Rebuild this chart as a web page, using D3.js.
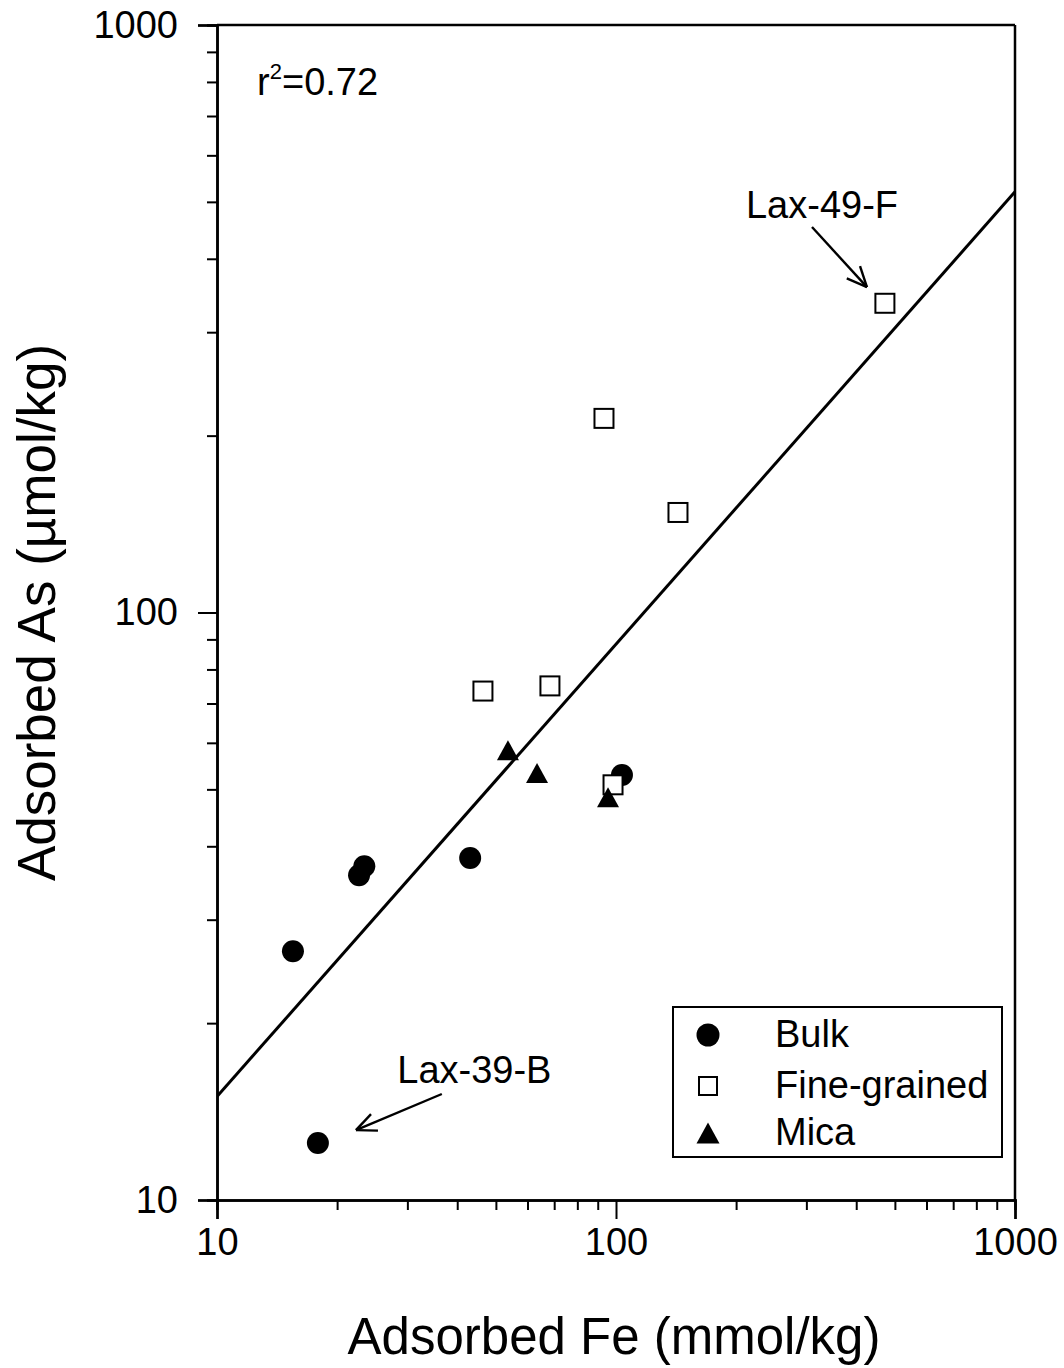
<!DOCTYPE html>
<html>
<head>
<meta charset="utf-8">
<script src="https://cdn.jsdelivr.net/npm/d3@7"></script>
<style>
  html, body { margin: 0; padding: 0; background: #fff; }
  svg { display: block; font-family: "Liberation Sans", Arial, Helvetica, sans-serif; }
</style>
</head>
<body>
<svg id="chart" width="1064" height="1368"></svg>
<script>
// ---- data ----
const bulkFe = [15.5, 22.7, 23.4, 43.1, 103.5, 17.9];
const bulkAs = [26.5, 35.7, 37.0, 38.2, 52.9, 12.5];

const fineFe = [472, 93.3, 143, 46.4, 68.3, 98.3];
const fineAs = [336, 214, 148, 73.5, 75.0, 50.9];

const micaFe = [53.6, 63.4, 95.5];
const micaAs = [58.3, 53.3, 48.5];

const fitFe = [10, 1000];
const fitAs = [15, 520];

const majorTicks = [10, 100, 1000];
const majorLabels = ["10", "100", "1000"];
const minorTicks = [20,30,40,50,60,70,80,90,200,300,400,500,600,700,800,900];

const legendLabels = ["Bulk", "Fine-grained", "Mica"];

// annotations in data units
const annoText = ["Lax-49-F", "Lax-39-B"];
const annoTextFe = [211.7, 28.3];
const annoTextAs = [469, 15.8];
const arrowFromFe = [309.9, 36.6];
const arrowFromAs = [453, 15.15];
const arrowToFe = [425.6, 22.3];
const arrowToAs = [358, 13.15];

const r2Fe = 12.6, r2As = 760;

// ---- layout ----
const svg = d3.select("#chart");
const L = 217, R = 1015, T = 25, B = 1200;
const x = d3.scaleLog().domain([10, 1000]).range([L, R]);
const y = d3.scaleLog().domain([10, 1000]).range([B, T]);
const tickFont = 38;

// frame (top and right)
svg.append("line").attr("x1", L).attr("x2", R).attr("y1", T).attr("y2", T)
  .attr("stroke", "#000").attr("stroke-width", 2.5);
svg.append("line").attr("x1", R).attr("x2", R).attr("y1", T).attr("y2", B)
  .attr("stroke", "#000").attr("stroke-width", 2.5);

function styleAxis(g) {
  g.selectAll("path.domain").attr("stroke", "#000").attr("stroke-width", 2.5);
  g.selectAll(".tick line").attr("stroke", "#000").attr("stroke-width", 2);
  g.selectAll(".tick text").attr("fill", "#000").attr("font-size", tickFont)
    .attr("font-family", "'Liberation Sans', Arial, sans-serif");
}

// x axis
const gxMinor = svg.append("g").attr("transform", `translate(0,${B})`)
  .call(d3.axisBottom(x).tickValues(minorTicks).tickSize(10).tickFormat(""));
styleAxis(gxMinor);
const gx = svg.append("g").attr("transform", `translate(0,${B})`)
  .call(d3.axisBottom(x).tickValues(majorTicks).tickSize(19).tickPadding(9)
    .tickFormat((d, i) => majorLabels[i]));
styleAxis(gx);

// y axis
const gyMinor = svg.append("g").attr("transform", `translate(${L},0)`)
  .call(d3.axisLeft(y).tickValues(minorTicks).tickSize(10).tickFormat(""));
styleAxis(gyMinor);
const gy = svg.append("g").attr("transform", `translate(${L},0)`)
  .call(d3.axisLeft(y).tickValues(majorTicks).tickSize(19).tickPadding(20)
    .tickFormat((d, i) => majorLabels[i]));
styleAxis(gy);

// axis titles
svg.append("text").attr("x", 614).attr("y", 1354)
  .attr("text-anchor", "middle").attr("font-size", 51).attr("fill", "#000")
  .text("Adsorbed Fe (mmol/kg)");
svg.append("text").attr("transform", `translate(55,${(T + B) / 2}) rotate(-90)`)
  .attr("text-anchor", "middle").attr("font-size", 53).attr("fill", "#000")
  .text("Adsorbed As (\u00B5mol/kg)");

// clip for regression line
svg.append("clipPath").attr("id", "plotclip").append("rect")
  .attr("x", L).attr("y", T).attr("width", R - L).attr("height", B - T);

// regression line
const fitPts = fitFe.map((v, i) => [v, fitAs[i]]);
svg.append("path").datum(fitPts)
  .attr("clip-path", "url(#plotclip)")
  .attr("d", d3.line().x(d => x(d[0])).y(d => y(d[1])))
  .attr("fill", "none").attr("stroke", "#000").attr("stroke-width", 3);

// markers
const circleR = 11, squareS = 19, triW = 22, triH = 20;
function triPath(cx, cy, w, h) {
  return `M${cx},${cy - h / 2}L${cx + w / 2},${cy + h / 2}L${cx - w / 2},${cy + h / 2}Z`;
}

const bulk = bulkFe.map((v, i) => ({ fe: v, as: bulkAs[i] }));
const fine = fineFe.map((v, i) => ({ fe: v, as: fineAs[i] }));
const mica = micaFe.map((v, i) => ({ fe: v, as: micaAs[i] }));

svg.append("g").selectAll("circle").data(bulk).join("circle")
  .attr("cx", d => x(d.fe)).attr("cy", d => y(d.as)).attr("r", circleR)
  .attr("fill", "#000");

svg.append("g").selectAll("rect").data(fine).join("rect")
  .attr("x", d => x(d.fe) - squareS / 2).attr("y", d => y(d.as) - squareS / 2)
  .attr("width", squareS).attr("height", squareS)
  .attr("fill", "#fff").attr("stroke", "#000").attr("stroke-width", 2);

svg.append("g").selectAll("path").data(mica).join("path")
  .attr("d", d => triPath(x(d.fe), y(d.as), triW, triH))
  .attr("fill", "#000");

// annotations
function arrow(x1, y1, x2, y2) {
  const g = svg.append("g").attr("stroke", "#000").attr("stroke-width", 2.4).attr("fill", "none");
  g.append("line").attr("x1", x1).attr("y1", y1).attr("x2", x2).attr("y2", y2);
  const ang = Math.atan2(y2 - y1, x2 - x1);
  const len = 22, spread = 0.42;
  [ang + Math.PI - spread, ang + Math.PI + spread].forEach(a => {
    g.append("line").attr("x1", x2).attr("y1", y2)
      .attr("x2", x2 + len * Math.cos(a)).attr("y2", y2 + len * Math.sin(a));
  });
}
annoText.forEach((t, i) => {
  svg.append("text").attr("x", x(annoTextFe[i])).attr("y", y(annoTextAs[i]))
    .attr("font-size", 38).attr("fill", "#000").text(t);
  arrow(x(arrowFromFe[i]), y(arrowFromAs[i]), x(arrowToFe[i]), y(arrowToAs[i]));
});

// r^2 text
const r2 = svg.append("text").attr("x", x(r2Fe)).attr("y", y(r2As))
  .attr("font-size", 38).attr("fill", "#000");
r2.append("tspan").text("r");
r2.append("tspan").attr("dy", -16).attr("font-size", 22).text("2");
r2.append("tspan").attr("dy", 16).text("=0.72");

// legend
const lg = svg.append("g");
lg.append("rect").attr("x", 673).attr("y", 1007).attr("width", 329).attr("height", 150)
  .attr("fill", "#fff").attr("stroke", "#000").attr("stroke-width", 2);
const legY = [1035, 1086, 1133];
const mx = 708;
lg.append("circle").attr("cx", mx).attr("cy", legY[0]).attr("r", 11.5).attr("fill", "#000");
lg.append("rect").attr("x", mx - 9).attr("y", legY[1] - 9).attr("width", 18).attr("height", 18)
  .attr("fill", "#fff").attr("stroke", "#000").attr("stroke-width", 2);
lg.append("path").attr("d", triPath(mx, legY[2], 23, 21)).attr("fill", "#000");
legendLabels.forEach((t, i) => {
  lg.append("text").attr("x", 775).attr("y", legY[i] + 12).attr("font-size", 38)
    .attr("fill", "#000").text(t);
});
</script>
</body>
</html>
